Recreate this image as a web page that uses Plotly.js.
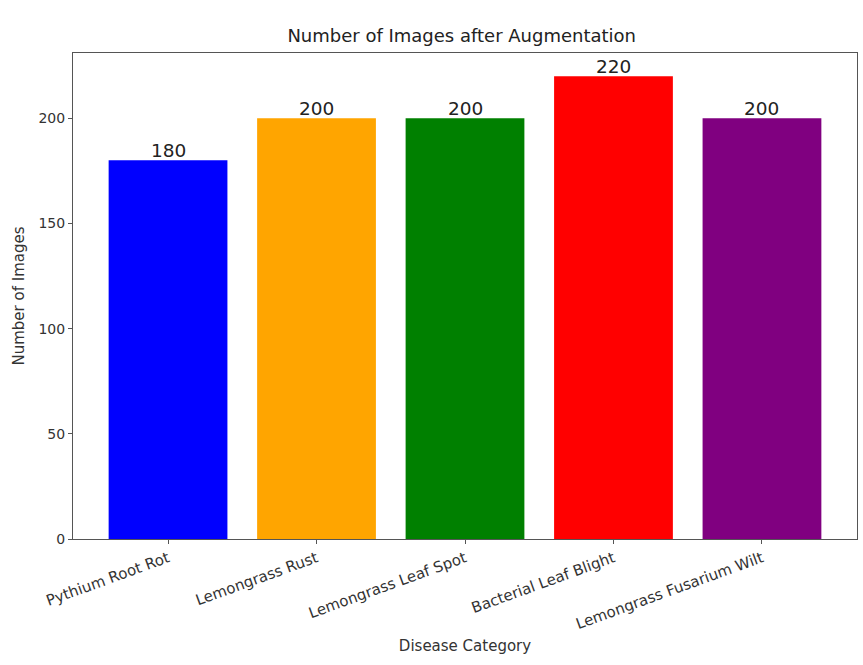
<!DOCTYPE html>
<html>
<head>
<meta charset="utf-8">
<script src="https://cdn.plot.ly/plotly-3.0.1.min.js"></script>
<style>html,body{margin:0;padding:0;background:#fff;}#chart{width:863px;height:665px;}</style>
</head>
<body>
<div id="chart"></div>
<script>
const categories = ["Pythium Root Rot", "Lemongrass Rust", "Lemongrass Leaf Spot", "Bacterial Leaf Blight", "Lemongrass Fusarium Wilt"];
const counts = [180, 200, 200, 220, 200];
const barColors = ["blue", "orange", "green", "red", "purple"];
const yTicks = [0, 50, 100, 150, 200];

const font = "DejaVu Sans, sans-serif";
const trace = {
  type: "bar",
  x: categories,
  y: counts,
  marker: {color: barColors, line: {width: 0}},
  width: 0.8,
  cliponaxis: false,
  hoverinfo: "none"
};
const annotations = categories.map((c, i) => ({
  x: c, y: counts[i], xref: "x", yref: "y",
  text: String(counts[i]), showarrow: false,
  xanchor: "center", yanchor: "bottom", yshift: -3,
  font: {family: font, size: 18.5, color: "#222"}
}));
const layout = {
  width: 863, height: 665,
  margin: {l: 73, r: 6, t: 53, b: 126},
  paper_bgcolor: "#fff", plot_bgcolor: "#fff",
  font: {family: font, color: "#333"},
  title: {text: "Number of Images after Augmentation", font: {family: font, size: 18, color: "#222"}, x: 0.535, xanchor: "center", y: 0.946, yanchor: "middle"},
  bargap: 0.2,
  annotations: annotations,
  xaxis: {
    range: [-0.64, 4.64], showgrid: false, zeroline: false,
    showline: true, linecolor: "#555", linewidth: 1, mirror: true,
    ticks: "outside", ticklen: 4, tickcolor: "#555",
    tickangle: -20, tickfont: {family: font, size: 15, color: "#333"},
    automargin: false,
    title: {text: "Disease Category", font: {family: font, size: 15, color: "#333"}, standoff: 8}
  },
  yaxis: {
    range: [0, 231], showgrid: false, zeroline: false,
    showline: true, linecolor: "#555", linewidth: 1, mirror: true,
    ticks: "outside", ticklen: 4, tickcolor: "#555",
    tickvals: yTicks, ticktext: yTicks.map(String),
    tickfont: {family: font, size: 14, color: "#333"},
    automargin: false,
    title: {text: "Number of Images", font: {family: font, size: 15, color: "#333"}, standoff: 10}
  },
  showlegend: false
};
Plotly.newPlot("chart", [trace], layout, {displayModeBar: false, staticPlot: true});
</script>
</body>
</html>
